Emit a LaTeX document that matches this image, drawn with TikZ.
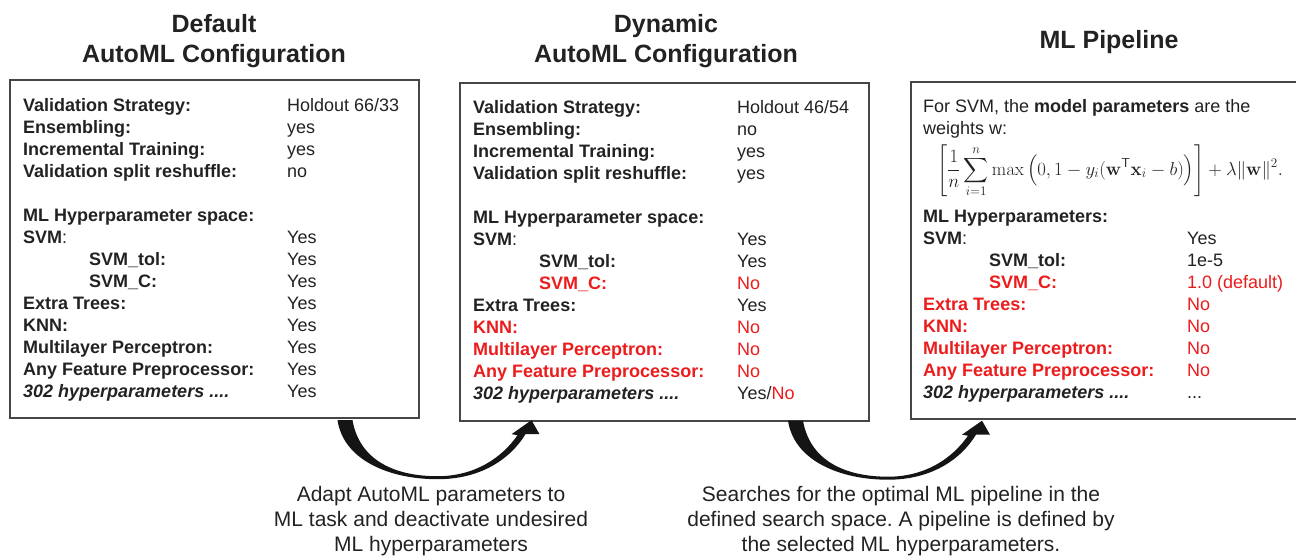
\RequirePackage{fix-cm}
\documentclass[tikz,border=0pt]{standalone}
\usepackage{amsmath}
\usepackage[no-math]{fontspec}
\setmainfont{Liberation Sans}
\usetikzlibrary{calc}
\frenchspacing

\definecolor{mlred}{RGB}{236,28,28}
\definecolor{inkgrey}{RGB}{34,34,34}
\definecolor{framegrey}{RGB}{70,70,70}
\definecolor{swooshgrey}{RGB}{20,20,20}

\tikzset{
  cfgbox/.style={draw=framegrey, line width=1.4pt, inner sep=0pt},
  headline/.style={font=\fontsize{25}{30}\selectfont\bfseries, align=center, text=inkgrey},
  boxtext/.style={font=\fontsize{18}{22}\selectfont, anchor=north west, inner sep=0pt, text=inkgrey},
  remark/.style={font=\fontsize{21}{25}\selectfont, align=center, text=inkgrey},
  % curved fat arrow, origin at the bottom edge between two boxes
  swoosh/.pic={
    \fill[swooshgrey] (-102,0) .. controls (-96,40) and (-50,59) .. (-2,59)
      .. controls (40,59) and (70,40) .. (86,14) -- (100,14) -- (92,0) -- (72,14) -- (78,15)
      .. controls (62,38) and (35,56) .. (-2,56)
      .. controls (-45,56) and (-80,40) .. (-87,0) -- cycle;
  }
}

\newcommand{\no}[1]{\textcolor{mlred}{#1}}

\begin{document}
\begin{tikzpicture}[x=1pt, y=-1pt]
\useasboundingbox (0,0) rectangle (1296,557);

% titles
\node[headline] (t1) at (214,41) {Default\\AutoML Configuration};
\node[headline] (t2) at (666,41) {Dynamic\\AutoML Configuration};
\node[headline] (t3) at (1109,42) {ML Pipeline};

% the three boxes
\node[cfgbox, minimum width=409pt, minimum height=338pt] (dflt) at (214.5,249) {};
\node[cfgbox, minimum width=409pt, minimum height=338pt] (dyn) at (664.5,252) {};
\node[cfgbox, minimum width=386pt, minimum height=337pt] (pipe) at (1104,250.5) {};

\node[boxtext] (l1) at (23,96) {\begin{tabular}{@{}p{264pt}@{}l@{}}
\textbf{Validation Strategy:} & Holdout 66/33\\
\textbf{Ensembling:} & yes\\
\textbf{Incremental Training:} & yes\\
\textbf{Validation split reshuffle:} & no\\
 & \\
\textbf{ML Hyperparameter space:} & \\
\textbf{SVM}: & Yes\\
\hspace*{66pt}\textbf{SVM\_tol:} & Yes\\
\hspace*{66pt}\textbf{SVM\_C:} & Yes\\
\textbf{Extra Trees:} & Yes\\
\textbf{KNN:} & Yes\\
\textbf{Multilayer Perceptron:} & Yes\\
\textbf{Any Feature Preprocessor:} & Yes\\
\textbf{\itshape 302 hyperparameters ....} & Yes
\end{tabular}};

\node[boxtext] (l2) at (473,98) {\begin{tabular}{@{}p{264pt}@{}l@{}}
\textbf{Validation Strategy:} & Holdout 46/54\\
\textbf{Ensembling:} & no\\
\textbf{Incremental Training:} & yes\\
\textbf{Validation split reshuffle:} & yes\\
 & \\
\textbf{ML Hyperparameter space:} & \\
\textbf{SVM}: & Yes\\
\hspace*{66pt}\textbf{SVM\_tol:} & Yes\\
\hspace*{66pt}\no{\textbf{SVM\_C:}} & \no{No}\\
\textbf{Extra Trees:} & Yes\\
\no{\textbf{KNN:}} & \no{No}\\
\no{\textbf{Multilayer Perceptron:}} & \no{No}\\
\no{\textbf{Any Feature Preprocessor:}} & \no{No}\\
\textbf{\itshape 302 hyperparameters ....} & Yes/\no{No}
\end{tabular}};

\node[boxtext] (l3) at (923,97) {\begin{tabular}{@{}p{264pt}@{}l@{}}
\multicolumn{2}{@{}l@{}}{For SVM, the \textbf{model parameters} are the}\\
weights w: & \\
 & \\
 & \\
 & \\
\textbf{ML Hyperparameters:} & \\
\textbf{SVM}: & Yes\\
\hspace*{66pt}\textbf{SVM\_tol:} & 1e-5\\
\hspace*{66pt}\no{\textbf{SVM\_C:}} & \no{1.0 (default)}\\
\no{\textbf{Extra Trees:}} & \no{No}\\
\no{\textbf{KNN:}} & \no{No}\\
\no{\textbf{Multilayer Perceptron:}} & \no{No}\\
\no{\textbf{Any Feature Preprocessor:}} & \no{No}\\
\textbf{\itshape 302 hyperparameters ....} & ...
\end{tabular}};

% hinge loss
\node[anchor=west, inner sep=0pt, text=inkgrey, font=\fontsize{18.7}{22}\selectfont] (loss) at (937,171)
  {$\displaystyle\left[\frac{1}{n}\sum_{i=1}^{n}\max\left(0,1-y_i(\mathbf{w}^{\mathsf{T}}\mathbf{x}_i-b)\right)\right]+\lambda\lVert\mathbf{w}\rVert^2.$};

% arrows between the boxes
\pic at ($(dflt.south east)!0.5!(dyn.south west)$) {swoosh};
\pic at ($(dyn.south east)!0.5!(pipe.south west)$) {swoosh};

% captions
\node[remark] (adapt) at (431,521) {Adapt AutoML parameters to\\ML task and deactivate undesired\\ML hyperparameters};
\node[remark] (search) at (901,521) {Searches for the optimal ML pipeline in the\\defined search space. A pipeline is defined by\\the selected ML hyperparameters.};
\end{tikzpicture}
\end{document}
